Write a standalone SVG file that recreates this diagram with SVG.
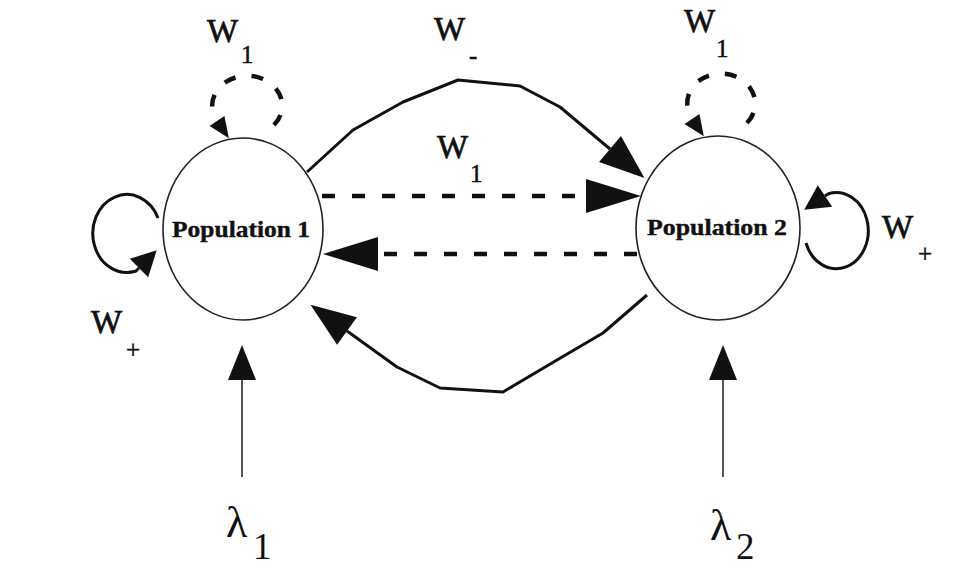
<svg xmlns="http://www.w3.org/2000/svg" width="958" height="569" viewBox="0 0 958 569">
<style>
  .node { fill: #ffffff; stroke: #222222; stroke-width: 1.6; }
  .nlabel { font-family: "Liberation Serif", "Times New Roman", serif; font-weight: bold; font-size: 24px; fill: #111111; stroke: #111111; stroke-width: 0.4; }
  .lbl { font-family: "Liberation Serif", "Times New Roman", serif; fill: #111111; }
  .w { font-size: 33px; stroke: #111111; stroke-width: 0.7; }
  .sub { font-size: 25px; stroke: #111111; stroke-width: 0.5; }
  .lam { font-size: 44px; }
  .lamsub { font-size: 37px; }
  .solid { fill: none; stroke: #111111; stroke-width: 3; stroke-linejoin: round; }
  .dash { fill: none; stroke: #111111; stroke-width: 4.5; stroke-dasharray: 13 17; }
  .dloop { fill: none; stroke: #111111; stroke-width: 4.5; stroke-dasharray: 12 16; }
  .input { fill: none; stroke: #555555; stroke-width: 2; }
</style>
<defs>
  <marker id="ahBig" markerUnits="userSpaceOnUse" viewBox="0 -18 46 36" markerWidth="46" markerHeight="36" refX="0" refY="0" orient="auto" overflow="visible">
    <path d="M0,-17 L45,0 L0,17 z" fill="#111111"/>
  </marker>
  <marker id="ahDash" markerUnits="userSpaceOnUse" viewBox="0 -18 56 36" markerWidth="56" markerHeight="36" refX="0" refY="0" orient="auto" overflow="visible">
    <path d="M0,-17 L55,0 L0,17 z" fill="#111111"/>
  </marker>
  <marker id="ahLoop" markerUnits="userSpaceOnUse" viewBox="0 -14 26 28" markerWidth="26" markerHeight="28" refX="0" refY="0" orient="auto" overflow="visible">
    <path d="M0,-13 L25,0 L0,13 z" fill="#111111"/>
  </marker>
  <marker id="ahSmall" markerUnits="userSpaceOnUse" viewBox="0 -10 22 20" markerWidth="22" markerHeight="20" refX="0" refY="0" orient="auto" overflow="visible">
    <path d="M0,-9 L21,0 L0,9 z" fill="#111111"/>
  </marker>
  <marker id="ahIn" markerUnits="userSpaceOnUse" viewBox="0 -15 36 30" markerWidth="36" markerHeight="30" refX="0" refY="0" orient="auto" overflow="visible">
    <path d="M0,-14 L35,0 L0,14 z" fill="#111111"/>
  </marker>
</defs>
<rect x="0" y="0" width="958" height="569" fill="#ffffff"/>

<g id="connectors">
  <path id="e-top-arc" class="solid" d="M307,172 L353,130 L403,102 L458,80 L520,86 L560,107 L610,149" marker-end="url(#ahBig)"/>
  <path id="e-dash-12" class="dash" d="M322,196 L586,196" marker-end="url(#ahDash)"/>
  <path id="e-dash-21" class="dash" d="M637,254 L378,254" marker-end="url(#ahDash)"/>
  <path id="e-bottom-arc" class="solid" d="M647,295 L603,333 L557,360 L503,392 L440,388 L397,367 L347,331" marker-end="url(#ahBig)"/>
  <path id="e-loop-p1" class="solid" d="M158,218 A34,39 0 1 0 136,271 l3,-3" marker-end="url(#ahLoop)"/>
  <path id="e-loop-p2" class="solid" d="M806,243 A32,38 0 1 0 828,194 l-3,2" marker-end="url(#ahLoop)"/>
  <path id="e-dloop-p1" class="dloop" d="M274,125 A35,30 0 1 0 217,121" marker-end="url(#ahSmall)"/>
  <path id="e-dloop-p2" class="dloop" d="M747,123 A34,30 0 1 0 692,119" marker-end="url(#ahSmall)"/>
  <path id="e-in-1" class="input" d="M242,477 L242,380" marker-end="url(#ahIn)"/>
  <path id="e-in-2" class="input" d="M723,477 L723,380" marker-end="url(#ahIn)"/>
</g>

<g id="population1">
  <ellipse class="node" cx="243" cy="229" rx="80" ry="91"/>
  <text class="nlabel" x="241" y="237" text-anchor="middle" textLength="138" lengthAdjust="spacingAndGlyphs">Population 1</text>
</g>

<g id="population2">
  <ellipse class="node" cx="718" cy="228" rx="82" ry="92"/>
  <text class="nlabel" x="717" y="235" text-anchor="middle" textLength="140" lengthAdjust="spacingAndGlyphs">Population 2</text>
</g>

<g id="labels">
  <text class="lbl w" x="207" y="42">W</text>
  <text class="lbl sub" x="241" y="63">1</text>

  <text class="lbl w" x="684" y="32">W</text>
  <text class="lbl sub" x="716" y="57">1</text>

  <text class="lbl w" x="434" y="40">W</text>
  <text class="lbl sub" x="469" y="64">-</text>

  <text class="lbl w" x="437" y="158">W</text>
  <text class="lbl sub" x="470" y="182">1</text>

  <text class="lbl w" x="91" y="333">W</text>
  <text class="lbl sub" x="126" y="358">+</text>

  <text class="lbl w" x="882" y="238">W</text>
  <text class="lbl sub" x="918" y="262">+</text>

  <text class="lbl lam" x="226" y="537">λ</text>
  <text class="lbl lamsub" x="253" y="559">1</text>

  <text class="lbl lam" x="710" y="540">λ</text>
  <text class="lbl lamsub" x="736" y="559">2</text>
</g>
</svg>
